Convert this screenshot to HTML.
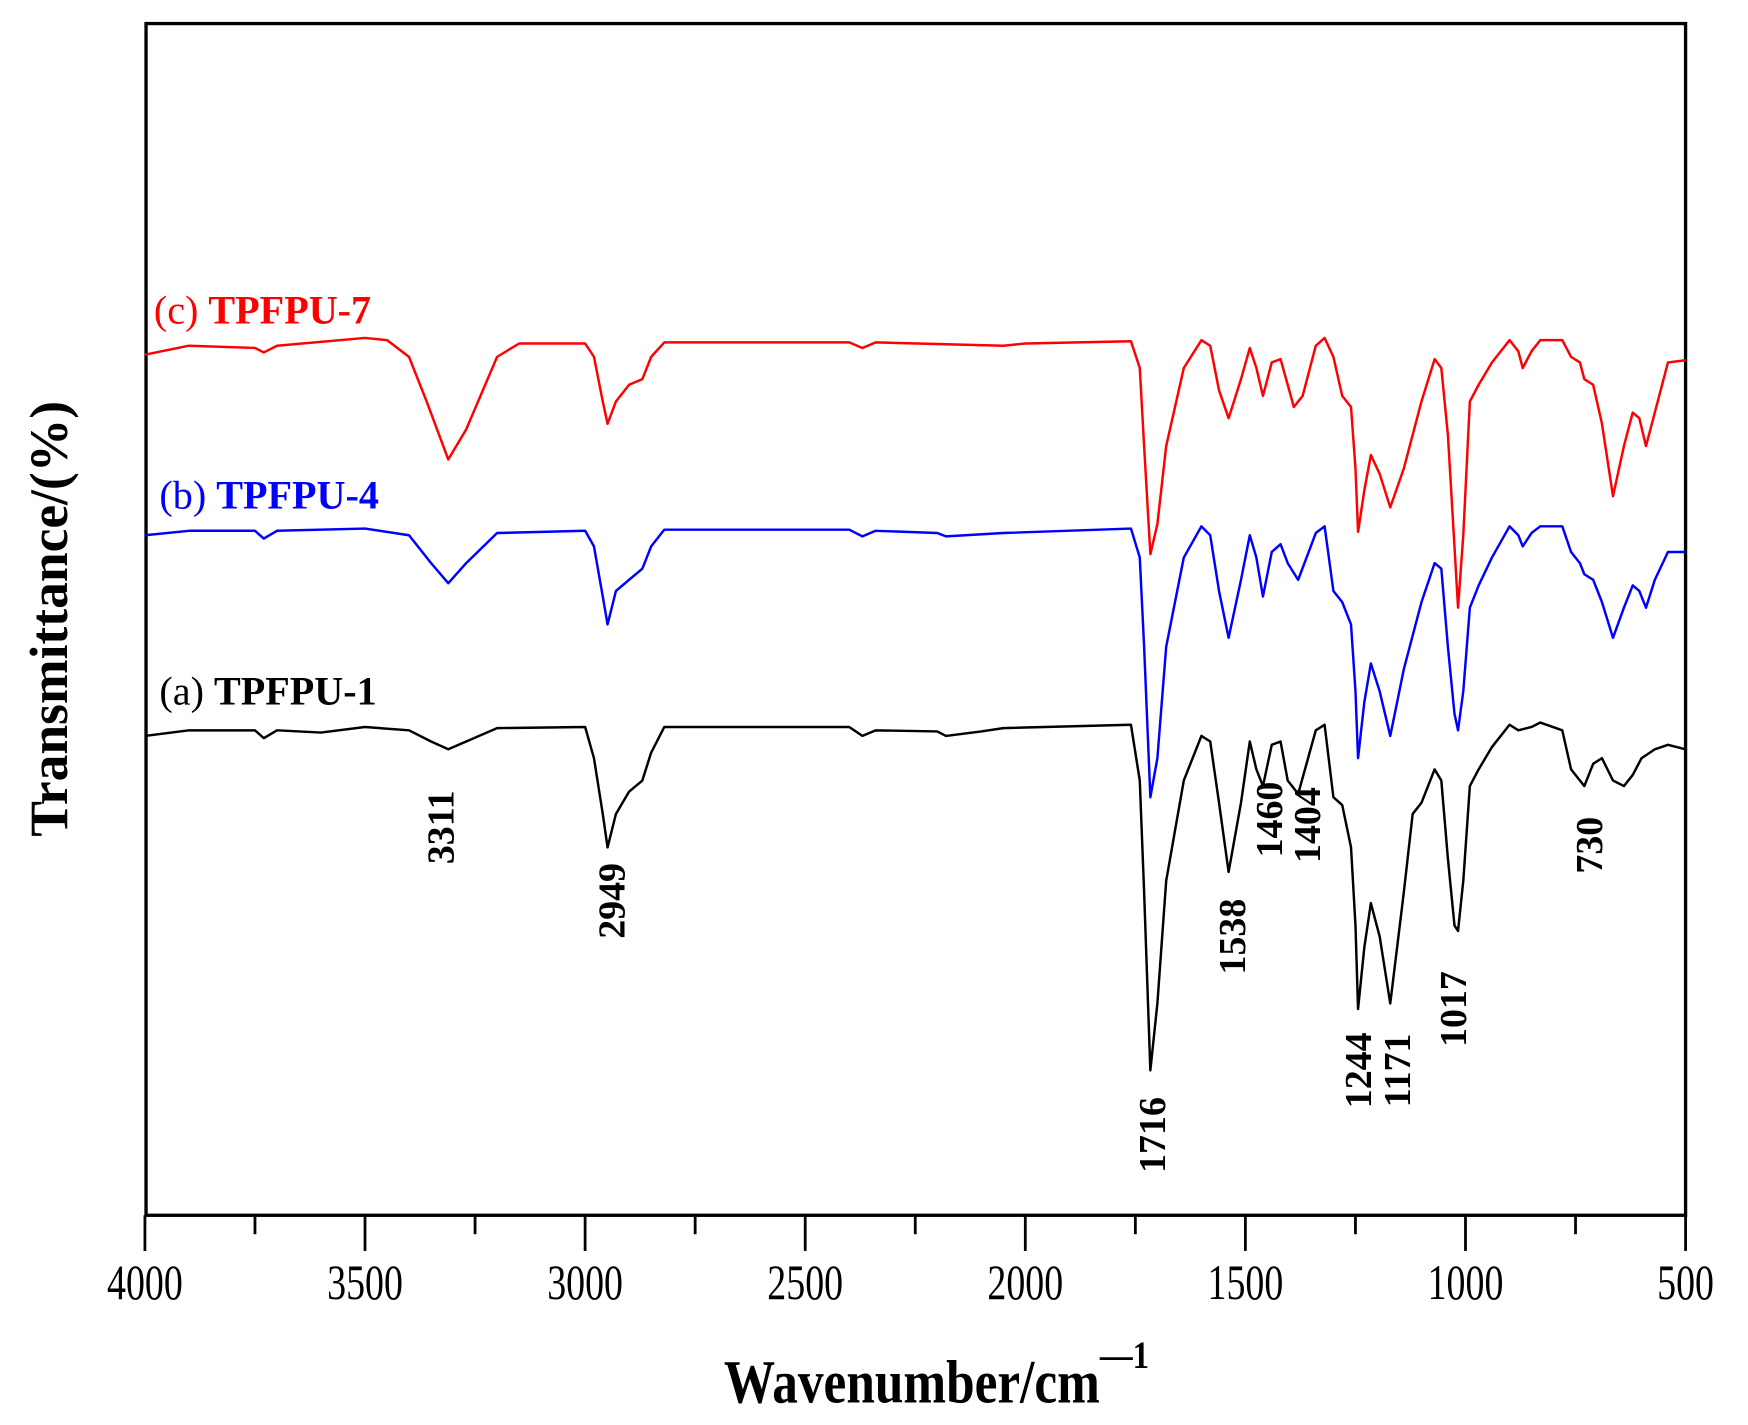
<!DOCTYPE html>
<html><head><meta charset="utf-8"><style>
html,body{margin:0;padding:0;background:#fff;}
svg{display:block;}
text{font-family:"Liberation Serif",serif;}
</style></head><body>
<svg id="s" width="1748" height="1425" viewBox="0 0 1568 1278" xmlns="http://www.w3.org/2000/svg">
<rect x="0" y="0" width="1568" height="1278" fill="#fff"/>
<rect x="131" y="21" width="1381" height="1069" fill="none" stroke="#000" stroke-width="3"/>
<g id="ticks" stroke="#000" stroke-width="2.5"></g>
<g id="tl" font-size="40" text-anchor="middle" fill="#000"></g>
<text transform="translate(840,1258) scale(0.92,1.1)" font-size="50" font-weight="bold" text-anchor="middle">Wavenumber/cm<tspan font-size="32" dy="-28">—1</tspan></text>
<text transform="translate(60,555) rotate(-90) scale(1,1)" font-size="48" font-weight="bold" text-anchor="middle">Transmittance/(%)</text>
<text x="138" y="290" font-size="36" fill="#f00">(c) <tspan font-weight="bold">TPFPU-7</tspan></text>
<text x="143" y="456" font-size="36" fill="#0000ff">(b) <tspan font-weight="bold">TPFPU-4</tspan></text>
<text x="143" y="632" font-size="36" fill="#000">(a) <tspan font-weight="bold">TPFPU-1</tspan></text>
<g id="curves" fill="none" stroke-width="2.2" stroke-linejoin="round"></g>
<g id="pk" font-size="34" fill="#000"></g>
</svg>
<script>
var NS="http://www.w3.org/2000/svg";
function X(w){return 130+(4000-w)*0.39486;}
function el(t,a,p,txt){var e=document.createElementNS(NS,t);for(var k in a)e.setAttribute(k,a[k]);if(txt)e.textContent=txt;document.getElementById(p).appendChild(e);}
for(var w=4000;w>=500;w-=250){var maj=(w%500==0);el('line',{x1:X(w),x2:X(w),y1:1090,y2:maj?1122:1107},'ticks');if(maj)el('text',{transform:'translate('+X(w)+',1165) scale(0.85,1.12)'},'tl',String(w));}
var red=[4000,318,3900,310,3750,312,3730,316,3700,310,3500,303,3450,305,3400,320,3360,360,3311,412,3270,385,3200,320,3150,308,3000,308,2980,320,2960,360,2949,380,2930,360,2900,345,2870,340,2850,320,2820,307,2400,307,2370,312,2340,307,2050,310,2000,308,1760,306,1740,330,1730,400,1716,497,1700,470,1680,400,1640,330,1600,305,1580,310,1560,350,1538,375,1510,340,1490,312,1475,330,1460,355,1440,325,1420,322,1404,345,1390,365,1370,355,1340,310,1320,303,1300,320,1280,355,1260,365,1250,420,1244,477,1230,440,1215,408,1195,425,1171,455,1140,420,1100,360,1070,322,1055,330,1040,390,1025,490,1017,545,1005,480,990,360,970,345,940,325,900,305,880,315,870,330,850,315,830,305,780,305,760,320,740,325,730,340,710,345,690,380,665,445,640,400,620,370,605,375,590,400,570,370,540,325,500,323];
var blue=[4000,480,3900,476,3750,476,3730,483,3700,476,3500,474,3400,480,3350,505,3311,523,3270,505,3200,478,3000,476,2980,490,2960,535,2949,560,2930,530,2900,520,2870,510,2850,490,2820,475,2400,475,2370,481,2340,476,2200,478,2180,481,2050,478,1760,474,1740,500,1730,580,1716,715,1700,680,1680,580,1640,500,1600,472,1580,480,1560,530,1538,572,1510,520,1490,480,1475,500,1460,535,1440,495,1420,488,1404,505,1380,520,1340,478,1320,472,1300,530,1280,540,1260,560,1250,620,1244,680,1230,630,1215,595,1195,620,1171,660,1140,600,1100,540,1070,505,1055,510,1040,580,1025,640,1017,655,1005,620,990,545,970,525,940,500,900,472,880,480,870,490,850,478,830,472,780,472,760,495,740,505,730,515,710,520,690,540,665,572,640,545,620,525,605,530,590,545,570,520,540,495,500,495];
var black=[4000,660,3900,655,3750,655,3730,662,3700,655,3600,657,3500,652,3400,655,3350,665,3311,672,3270,665,3200,653,3000,652,2980,680,2960,730,2949,760,2930,730,2900,710,2870,700,2850,675,2820,652,2400,652,2370,660,2340,655,2200,656,2180,660,2100,656,2050,653,1760,650,1740,700,1730,800,1716,960,1700,900,1680,790,1640,700,1600,660,1580,665,1560,720,1538,782,1510,720,1490,665,1475,690,1460,705,1440,668,1420,665,1404,700,1380,712,1340,655,1320,650,1300,715,1280,722,1260,760,1250,830,1244,905,1230,850,1215,810,1195,840,1171,900,1140,800,1120,730,1100,720,1070,690,1055,700,1040,770,1025,830,1017,835,1005,790,990,705,970,690,940,670,900,650,880,655,850,652,830,648,780,655,760,690,740,700,730,705,710,685,690,680,665,700,640,705,620,695,600,680,570,672,540,668,500,672];
function pl(d,c){var s=[];for(var i=0;i<d.length;i+=2)s.push(X(d[i]).toFixed(1)+','+d[i+1]);el('polyline',{points:s.join(' '),stroke:c},'curves');}
pl(red,'#f00');pl(blue,'#0000ff');pl(black,'#000');
var pk=[['3311',395,742],['2949',548,808],['1716',1033,1018],['1538',1105,840],['1460',1138,735],['1404',1172,740],['1244',1218,960],['1171',1253,960],['1017',1303,905],['730',1425,758]];
pk.forEach(function(p){el('text',{transform:'translate('+(p[1]+12)+','+p[2]+') rotate(-90)','text-anchor':'middle','font-weight':'bold'},'pk',p[0]);});
</script>
</body></html>
